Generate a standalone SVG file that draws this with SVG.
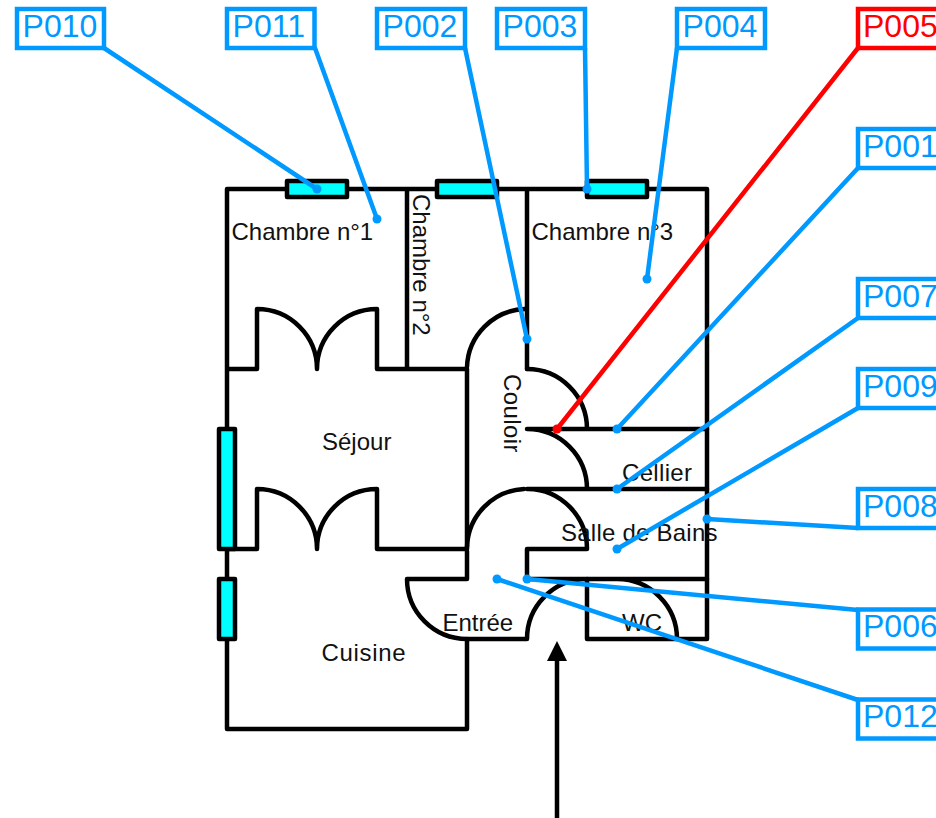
<svg xmlns="http://www.w3.org/2000/svg" width="936" height="818" viewBox="0 0 936 818">
<style>
.wall{fill:none;stroke:#000;stroke-width:4.5;stroke-linecap:round;stroke-linejoin:round}
.win{fill:#0ff;stroke:#000;stroke-width:4.5;stroke-linejoin:round}
.room{font-family:"Liberation Sans",Arial,sans-serif;font-size:24px;fill:#111}
.box{fill:#fff;stroke:#09f;stroke-width:4.5}
.box.alert{stroke:#f00}
.tag{font-family:"Liberation Sans",Arial,sans-serif;font-size:32px;fill:#09f}
.tag.alert{fill:#f00}
.lead{stroke:#09f;stroke-width:4.5;fill:none;stroke-linecap:round}
.lead.alert{stroke:#f00}
.dot{fill:#09f}
.dot.alert{fill:#f00}
</style>
<rect width="936" height="818" fill="#fff"/>
<g id="plan">
<path class="wall" d="M287 189H227V729H467V639M347 189H437M497 189H587M647 189H707V639H587V579M407 189V369M527 189V369M227 369H257V309A60 60 0 0 1 317 369A60 60 0 0 1 377 309V369H467V549H377V489A60 60 0 0 0 317 549A60 60 0 0 0 257 489V549H227"/>
<path class="wall" d="M467 367A60 60 0 0 1 525 309M527 369A60 60 0 0 1 587 429M527 429H707M527 429A60 60 0 0 1 587 489M527 489H707M467 547A60 60 0 0 1 524 489M528 489A60 60 0 0 1 587 549H527V579H707M467 551V579H407A60 60 0 0 0 467 639H527A60 60 0 0 1 587 579M617 579A60 60 0 0 1 677 639"/>
<rect class="win" x="287" y="181" width="60" height="16"/>
<rect class="win" x="437" y="181" width="60" height="16"/>
<rect class="win" x="587" y="181" width="60" height="16"/>
<rect class="win" x="219" y="429" width="16" height="120"/>
<rect class="win" x="219" y="579" width="16" height="60"/>
<path d="M557 818V658" stroke="#000" stroke-width="4.5" fill="none"/>
<polygon points="557,641 567,661 547,661" fill="#000"/>
</g>
<g id="rooms">
<text class="room" x="231.5" y="240">Chambre n°1</text>
<text class="room" transform="translate(413 194) rotate(90)">Chambre n°2</text>
<text class="room" x="531.5" y="240">Chambre n°3</text>
<text class="room" transform="translate(504 374) rotate(90)" textLength="78.5">Couloir</text>
<text class="room" x="322" y="450">Séjour</text>
<text class="room" x="622" y="481" textLength="70">Cellier</text>
<text class="room" x="561" y="541" textLength="156.5">Salle de Bains</text>
<text class="room" x="442.5" y="631">Entrée</text>
<text class="room" x="622" y="631">WC</text>
<text class="room" x="321.5" y="661" textLength="84">Cuisine</text>
</g>
<g id="connectors">
<path class="lead" d="M104 48L317 189"/><circle class="dot" cx="317" cy="189" r="4.5"/>
<path class="lead" d="M315 48L377 219"/><circle class="dot" cx="377" cy="219" r="4.5"/>
<path class="lead" d="M465 48L527 339"/><circle class="dot" cx="527" cy="339" r="4.5"/>
<path class="lead" d="M585 48L587 189"/><circle class="dot" cx="587" cy="189" r="4.5"/>
<path class="lead" d="M677 48L647 279"/><circle class="dot" cx="647" cy="279" r="4.5"/>
<path class="lead alert" d="M858 48L557 429"/><circle class="dot alert" cx="557" cy="429" r="4.5"/>
<path class="lead" d="M858 168L617 429"/><circle class="dot" cx="617" cy="429" r="4.5"/>
<path class="lead" d="M858 318L617 489"/><circle class="dot" cx="617" cy="489" r="4.5"/>
<path class="lead" d="M858 408L617 549"/><circle class="dot" cx="617" cy="549" r="4.5"/>
<path class="lead" d="M858 528L707 519"/><circle class="dot" cx="707" cy="519" r="4.5"/>
<path class="lead" d="M858 610L527 579"/><circle class="dot" cx="527" cy="579" r="4.5"/>
<path class="lead" d="M858 700L497 579"/><circle class="dot" cx="497" cy="579" r="4.5"/>
</g>
<g id="P010"><rect class="box" x="17" y="9" width="87" height="39"/><text class="tag" x="22.6" y="36.5">P010</text></g>
<g id="P011"><rect class="box" x="227" y="9" width="87.5" height="39"/><text class="tag" x="232.6" y="36.5">P011</text></g>
<g id="P002"><rect class="box" x="377" y="9" width="88" height="39"/><text class="tag" x="382.6" y="36.5">P002</text></g>
<g id="P003"><rect class="box" x="497" y="9" width="88" height="39"/><text class="tag" x="502.6" y="36.5">P003</text></g>
<g id="P004"><rect class="box" x="677" y="9" width="88" height="39"/><text class="tag" x="682.6" y="36.5">P004</text></g>
<g id="P005"><rect class="box alert" x="858" y="9" width="88" height="39"/><text class="tag alert" x="863" y="36.5">P005</text></g>
<g id="P001"><rect class="box" x="858" y="129" width="88" height="39"/><text class="tag" x="863" y="156.5">P001</text></g>
<g id="P007"><rect class="box" x="858" y="279" width="88" height="39"/><text class="tag" x="863" y="306.5">P007</text></g>
<g id="P009"><rect class="box" x="858" y="369" width="88" height="39"/><text class="tag" x="863" y="396.5">P009</text></g>
<g id="P008"><rect class="box" x="858" y="489" width="88" height="39"/><text class="tag" x="863" y="516.5">P008</text></g>
<g id="P006"><rect class="box" x="858" y="609.5" width="88" height="39"/><text class="tag" x="863" y="637">P006</text></g>
<g id="P012"><rect class="box" x="858" y="699.5" width="88" height="39"/><text class="tag" x="863" y="727">P012</text></g>
</svg>
